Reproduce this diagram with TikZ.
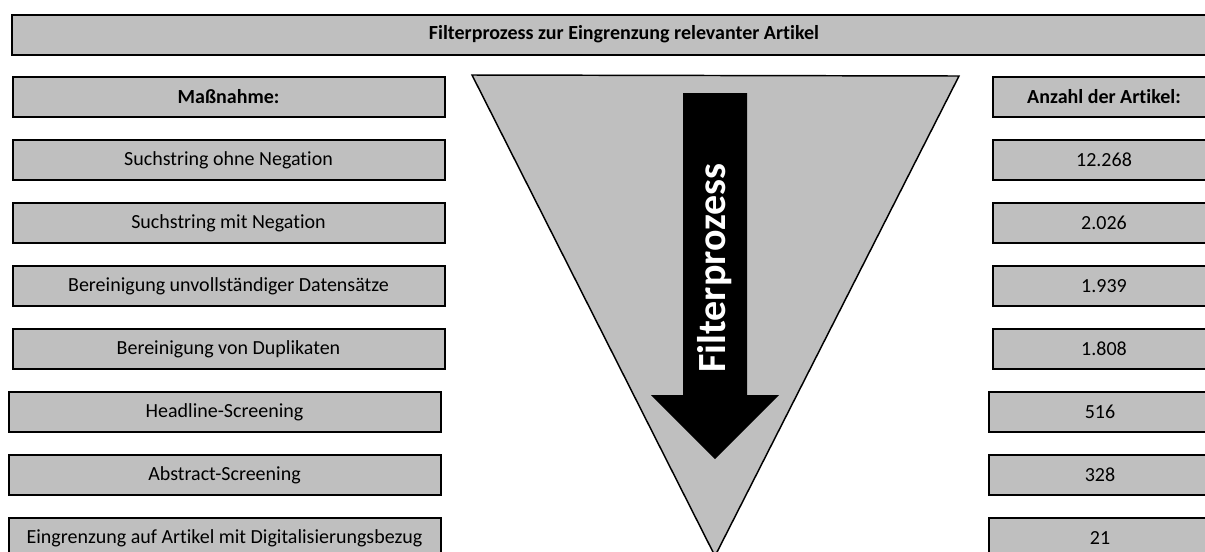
\documentclass[tikz,border=0pt]{standalone}
\usepackage{fontspec}
\setmainfont{Carlito}[Ligatures=NoCommon]
\definecolor{boxgray}{HTML}{BFBFBF}
\begin{document}
\begin{tikzpicture}[x=0.75pt,y=-0.75pt,
  box/.style={draw=black,line width=1.5pt,fill=boxgray,inner sep=0pt,minimum height=30pt,font=\fontsize{15}{17}\selectfont},
  lbox/.style={box,minimum width=324pt},
  rbox/.style={box,minimum width=166.5pt},
  head/.style={font=\fontsize{15}{17}\selectfont\bfseries}]
\useasboundingbox (0,0) rectangle (1205,551);
\clip (0,0) rectangle (1205,551);
			% title bar
			\node[box,head,minimum width=918pt](title) at (624,34.5){Filterprozess zur Eingrenzung relevanter Artikel};
			% funnel
			\draw[line width=1.1pt,fill=boxgray](472,75)--(959,76)--(715,556)--cycle;
			\fill[black](683,93)--(747,93)--(747,395)--(779,395)--(715,459)--(651,395)--(683,395)--cycle;
			\node[rotate=90,text=white,font=\fontsize{30}{32}\selectfont\bfseries](flow) at (715,268){Filterprozess};
			% left column
			\node[lbox,head](m0) at (228.5,96.5){Maßnahme:};
			\node[lbox](m1) at (228.5,160){Suchstring ohne Negation};
			\node[lbox](m2) at (228.5,223){Suchstring mit Negation};
			\node[lbox](m3) at (228.5,286){Bereinigung unvollständiger Datensätze};
			\node[lbox](m4) at (228.5,349){Bereinigung von Duplikaten};
			\node[lbox](m5) at (224.5,412){Headline-Screening};
			\node[lbox](m6) at (224.5,475){Abstract-Screening};
			\node[lbox](m7) at (224.5,538){Eingrenzung auf Artikel mit Digitalisierungsbezug};
			% right column
			\node[rbox,head](n0) at (1104,96.5){Anzahl der Artikel:};
			\node[rbox](n1) at (1104,160){12.268};
			\node[rbox](n2) at (1104,223){2.026};
			\node[rbox](n3) at (1104,286){1.939};
			\node[rbox](n4) at (1104,349){1.808};
			\node[rbox](n5) at (1100,412){516};
			\node[rbox](n6) at (1100,475){328};
			\node[rbox](n7) at (1100,538){21};
\end{tikzpicture}
\end{document}
